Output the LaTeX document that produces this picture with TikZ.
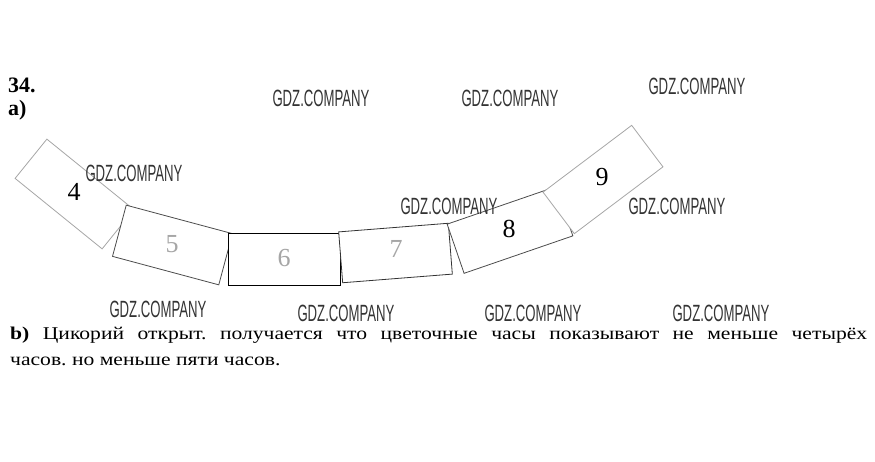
\documentclass[tikz,border=0pt]{standalone}
\usepackage{fontspec}
\setmainfont{Liberation Serif}
\newfontfamily\widefont[FakeStretch=1.2]{Liberation Serif}
\newfontfamily\wmfont[FakeStretch=0.56]{Liberation Sans}
\begin{document}
\begin{tikzpicture}[x=1pt,y=-1pt,
  box/.style={draw=#1,line width=0.8pt,fill=white,rectangle,inner sep=0pt},
  num/.style={text=#1,font=\fontsize{26}{26}\selectfont,inner sep=0pt},
  wm/.style={font=\wmfont\fontsize{23.5}{23.5}\selectfont,text=black!80,inner sep=0pt}]
\useasboundingbox (0,0) rectangle (875,461);
% boxes
\node[box=gray!70,minimum width=112pt,minimum height=50.5pt,rotate=-39] (b4) at (74.5,194) {};
\node[box=black!70,minimum width=110pt,minimum height=53pt,rotate=-15] (b5) at (172.5,245) {};
\node[box=black,minimum width=112pt,minimum height=52pt] (b6) at (284,259) {};
\node[box=black!80,minimum width=110pt,minimum height=51pt,rotate=4.5] (b7) at (395.5,253) {};
\node[box=black!70,minimum width=115pt,minimum height=52pt,rotate=19] (b8) at (510,230) {};
\node[box=gray!70,minimum width=111pt,minimum height=52pt,rotate=37] (b9) at (603,179.5) {};
% numbers
\node[num=black] (n4) at (74,192) {4};
\node[num=gray!70] (n5) at (172,244) {5};
\node[num=gray!70] (n6) at (284,258) {6};
\node[num=gray!70] (n7) at (396,249) {7};
\node[num=black] (n8) at (509,229) {8};
\node[num=black] (n9) at (602,177) {9};
% headings
\node[anchor=base west,inner sep=0pt,font=\bfseries\fontsize{22}{22}\selectfont] (h34) at (8,92) {34.};
\node[anchor=base west,inner sep=0pt,font=\bfseries\fontsize{22}{22}\selectfont] (ha) at (8,115) {a)};
% paragraph
\node[anchor=base west,inner sep=0pt,text width=857pt,align=justify,
  font=\widefont\fontsize{18}{26}\selectfont] (txt) at (10,339)
  {\frenchspacing\hyphenpenalty=10000\exhyphenpenalty=10000
   \textbf{b)} Цикорий открыт. получается что цветочные часы показывают не меньше четырёх\linebreak
   часов. но меньше пяти часов.};
% watermarks
\node[wm] (w1) at (321,98) {GDZ.COMPANY};
\node[wm] (w2) at (510,98) {GDZ.COMPANY};
\node[wm] (w3) at (697,86) {GDZ.COMPANY};
\node[wm] (w4) at (134,173) {GDZ.COMPANY};
\node[wm] (w5) at (449,206) {GDZ.COMPANY};
\node[wm] (w6) at (677,206) {GDZ.COMPANY};
\node[wm] (w7) at (158,309) {GDZ.COMPANY};
\node[wm] (w8) at (346,313) {GDZ.COMPANY};
\node[wm] (w9) at (533,313) {GDZ.COMPANY};
\node[wm] (w10) at (721,313) {GDZ.COMPANY};
\end{tikzpicture}
\end{document}
